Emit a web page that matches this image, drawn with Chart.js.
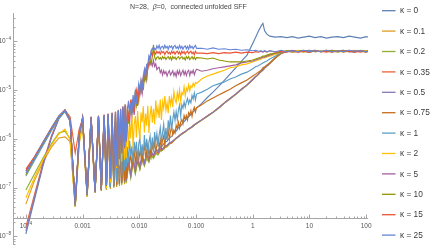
<!DOCTYPE html>
<html><head><meta charset="utf-8">
<script src="https://cdn.jsdelivr.net/npm/chart.js@4.4.1/dist/chart.umd.min.js"></script>
<style>html,body{margin:0;padding:0;background:#fff;overflow:hidden}canvas{display:block}</style>
</head><body>
<canvas id="c" width="436" height="245"></canvas>
<script>
// ---- data (log10 of time t and log10 of SFF) ----
const kappaLabels = ['0','0.1','0.2','0.35','0.5','0.75','1','2','5','10','15','25'];
const seriesColors = ['#5E81B5','#E19C24','#8FB032','#EB6235','#8778B3','#C56E1A','#5D9EC7','#FFBF00','#A5609D','#929600','#E95536','#6685D9'];

const tEarly = [-4.00,-3.85,-3.70,-3.55,-3.42,-3.31,-3.22,-3.13,-3.06,-3.00,-2.92,-2.85,-2.78,-2.72,-2.67,-2.62,-2.58,-2.55,-2.51,-2.48,-2.45,-2.42,-2.40,-2.37,-2.35,-2.33,-2.31,-2.29,-2.26,-2.25,-2.23];
const tMid = [-2.19,-2.15,-2.11,-2.07,-2.03,-1.99,-1.95,-1.91,-1.87,-1.83,-1.79,-1.75,-1.71,-1.67,-1.63,-1.59,-1.55,-1.51,-1.47,-1.43,-1.39,-1.35,-1.31,-1.27,-1.23,-1.19,-1.15,-1.11,-1.07,-1.03,-0.99];
const tMidDense = [-2.21,-2.19,-2.17,-2.15,-2.13,-2.11,-2.09,-2.07,-2.05,-2.03,
 -2.01,-1.99,-1.97,-1.95,-1.93,-1.91,-1.89,-1.87,-1.85,-1.83,
 -1.81,-1.79,-1.77,-1.75,-1.73,-1.71,-1.69,-1.67,-1.65,-1.63,
 -1.61,-1.59,-1.57,-1.55,-1.53,-1.51,-1.49,-1.47,-1.45,-1.43,
 -1.41,-1.39,-1.37,-1.35,-1.33,-1.31,-1.29,-1.27,-1.25,-1.23,
 -1.21,-1.19,-1.17,-1.15,-1.13,-1.11,-1.09,-1.07,-1.05,-1.03,
 -1.01,-0.99];
const tLate = [-0.9,-0.8,-0.7,-0.6,-0.5,-0.4,-0.3,-0.2,-0.1,0,0.05,0.1,0.15,0.18,0.21,0.25,0.3,0.4,0.5,0.6,0.7,0.8,0.9,1.0,1.1,1.2,1.3,1.4,1.5,1.6,1.7,1.8,1.9,2.0,2.04];

const sff_k0 = [
 -7.95,-7.25,-6.56,-5.98,-5.59,-5.43,-5.63,-7.38,-5.94,-5.57,-7.15,-5.55,-7.09,-5.55,-7.05,-5.55,-7.01,-5.55,-6.99,-5.57,-6.97,-5.63,-6.95,-5.71,-6.93,-5.80,-6.91,-5.90,-6.89,-6.00,-6.87,
 -6.50,-6.75,-6.45,-6.68,-6.42,-6.60,-6.38,-6.52,-6.33,-6.42,-6.28,-6.33,-6.22,-6.24,-6.15,-6.14,-6.07,-6.05,-5.98,-5.95,-5.88,-5.84,-5.77,-5.73,-5.67,-5.62,-5.57,-5.52,-5.47,-5.42,-5.37,
 -5.27,-5.15,-5.04,-4.92,-4.80,-4.67,-4.54,-4.41,-4.28,-4.04,-3.92,-3.79,-3.68,-3.63,-3.78,-3.85,-3.89,-3.91,-3.90,-3.92,-3.90,-3.93,-3.91,-3.89,-3.92,-3.90,-3.93,-3.91,-3.90,-3.92,-3.89,-3.91,-3.93,-3.90,-3.91];
const sff_k01 = [
 -7.34,-6.86,-6.48,-6.17,-5.98,-5.96,-6.06,-7.38,-6.10,-5.73,-7.19,-5.69,-7.11,-5.67,-7.07,-5.67,-7.05,-5.69,-7.03,-5.73,-7.01,-5.80,-6.99,-5.86,-6.97,-5.94,-6.95,-6.02,-6.93,-6.10,-6.91,
 -6.55,-6.78,-6.50,-6.70,-6.44,-6.62,-6.40,-6.54,-6.36,-6.46,-6.32,-6.39,-6.29,-6.31,-6.24,-6.23,-6.17,-6.15,-6.10,-6.07,-6.03,-5.99,-5.95,-5.91,-5.88,-5.85,-5.81,-5.78,-5.75,-5.71,-5.68,
 -5.61,-5.53,-5.45,-5.36,-5.26,-5.17,-5.08,-4.98,-4.89,-4.78,-4.72,-4.67,-4.61,-4.58,-4.54,-4.50,-4.45,-4.33,-4.24,-4.21,-4.19,-4.20,-4.22,-4.19,-4.21,-4.20,-4.18,-4.21,-4.19,-4.22,-4.20,-4.19,-4.21,-4.20,-4.20];
const sff_k02 = [
 -7.05,-6.72,-6.40,-6.10,-5.88,-5.84,-6.00,-7.40,-6.04,-5.69,-7.19,-5.65,-7.09,-5.63,-7.05,-5.63,-7.03,-5.65,-7.01,-5.69,-6.99,-5.76,-6.97,-5.82,-6.95,-5.90,-6.93,-5.98,-6.91,-6.06,-6.89,
 -6.45,-6.80,-6.48,-6.72,-6.46,-6.63,-6.42,-6.56,-6.40,-6.48,-6.34,-6.40,-6.30,-6.33,-6.25,-6.24,-6.18,-6.16,-6.11,-6.08,-6.04,-6.00,-5.96,-5.92,-5.89,-5.86,-5.82,-5.79,-5.76,-5.72,-5.69,
 -5.62,-5.54,-5.46,-5.37,-5.27,-5.18,-5.09,-4.99,-4.90,-4.79,-4.73,-4.68,-4.62,-4.59,-4.55,-4.51,-4.46,-4.34,-4.25,-4.20,-4.22,-4.19,-4.21,-4.20,-4.18,-4.21,-4.19,-4.20,-4.22,-4.19,-4.21,-4.20,-4.18,-4.21,-4.20];
const sff_k035 = [
 -7.80,-7.15,-6.50,-5.94,-5.57,-5.41,-5.55,-6.29,-5.80,-5.59,-7.13,-5.57,-7.07,-5.57,-7.03,-5.57,-6.99,-5.59,-6.97,-5.61,-6.95,-5.67,-6.93,-5.74,-6.91,-5.82,-6.89,-5.92,-6.87,-6.02,-6.85,
 -6.50,-6.72,-6.45,-6.64,-6.40,-6.56,-6.36,-6.49,-6.32,-6.42,-6.29,-6.35,-6.26,-6.29,-6.22,-6.21,-6.16,-6.13,-6.09,-6.09,-6.03,-5.98,-5.95,-5.91,-5.88,-5.85,-5.81,-5.78,-5.75,-5.71,-5.68,
 -5.61,-5.53,-5.45,-5.36,-5.26,-5.17,-5.08,-4.98,-4.89,-4.78,-4.72,-4.67,-4.61,-4.58,-4.54,-4.50,-4.45,-4.33,-4.24,-4.19,-4.21,-4.22,-4.20,-4.18,-4.21,-4.20,-4.22,-4.19,-4.20,-4.21,-4.18,-4.20,-4.22,-4.19,-4.21];
const sff_k05 = [
 -7.89,-7.20,-6.53,-5.96,-5.58,-5.42,-5.62,-7.36,-5.93,-5.58,-7.14,-5.56,-7.08,-5.56,-7.04,-5.56,-7.00,-5.57,-6.98,-5.59,-6.96,-5.65,-6.94,-5.72,-6.92,-5.81,-6.90,-5.91,-6.88,-6.01,-6.86,
 -6.40,-6.74,-6.36,-6.66,-6.33,-6.58,-6.30,-6.50,-6.28,-6.43,-6.25,-6.35,-6.22,-6.28,-6.18,-6.21,-6.14,-6.14,-6.08,-6.06,-6.02,-5.99,-5.95,-5.91,-5.88,-5.85,-5.81,-5.78,-5.75,-5.71,-5.68,
 -5.61,-5.53,-5.45,-5.36,-5.26,-5.17,-5.08,-4.98,-4.89,-4.78,-4.72,-4.67,-4.61,-4.58,-4.54,-4.50,-4.45,-4.33,-4.24,-4.21,-4.19,-4.21,-4.20,-4.22,-4.19,-4.20,-4.18,-4.21,-4.20,-4.19,-4.21,-4.22,-4.19,-4.20,-4.20];
const sff_k075 = [
 -6.66,-6.40,-6.11,-5.80,-5.56,-5.43,-5.63,-7.35,-5.94,-5.57,-7.14,-5.55,-7.08,-5.55,-7.04,-5.55,-7.00,-5.55,-6.98,-5.55,-6.96,-5.61,-6.94,-5.69,-6.92,-5.78,-6.90,-5.88,-6.86,-5.98,-6.82,
 -6.58,-6.28,-6.49,-6.32,-6.55,-6.37,-6.26,-6.49,-6.29,-6.52,
 -6.21,-6.37,-6.23,-6.45,-6.26,-6.14,-6.37,-6.25,-6.11,-6.37,
 -6.19,-6.35,-6.11,-6.23,-6.06,-6.26,-6.13,-6.00,-6.18,-6.02,
 -6.20,-6.02,-5.94,-6.14,-5.93,-6.00,-5.83,-6.01,-5.85,-5.75,
 -5.91,-5.82,-5.88,-5.72,-5.79,-5.66,-5.78,-5.66,-5.60,-5.69,
 -5.52,-5.60,-5.52,-5.61,-5.46,-5.51,-5.42,-5.54,-5.41,-5.35,
 -5.45,-5.36,
 -5.30,-5.22,-5.16,-5.10,-5.04,-4.98,-4.91,-4.85,-4.79,-4.71,-4.67,-4.63,-4.59,-4.54,-4.52,-4.48,-4.44,-4.34,-4.24,-4.20,-4.21,-4.19,-4.20,-4.22,-4.19,-4.21,-4.20,-4.18,-4.21,-4.20,-4.19,-4.21,-4.20,-4.22,-4.20];
const sff_k1 = [
 -6.76,-6.45,-6.14,-5.83,-5.58,-5.44,-5.64,-7.37,-5.95,-5.58,-7.16,-5.56,-7.10,-5.56,-7.06,-5.56,-7.02,-5.56,-6.98,-5.56,-6.94,-5.62,-6.88,-5.70,-6.82,-5.79,-6.74,-5.86,-6.66,-5.92,-6.58,
 -6.16,-6.48,-6.04,-6.35,-6.15,-6.48,-6.06,-6.26,-6.06,-6.46,
 -6.11,-5.98,-6.33,-6.11,-6.36,-5.92,-6.25,-6.00,-6.35,-6.07,
 -5.94,-6.23,-5.97,-6.26,-5.86,-6.07,-5.89,-6.16,-5.92,-5.77,
 -6.05,-5.88,-5.70,-6.01,-5.77,-6.02,-5.62,-5.80,-5.52,-5.82,
 -5.61,-5.45,-5.62,-5.44,-5.61,-5.41,-5.31,-5.53,-5.30,-5.37,
 -5.24,-5.35,-5.24,-5.17,-5.28,-5.20,-5.26,-5.11,-5.18,-5.06,
 -5.20,-5.08,
 -5.04,-4.98,-4.91,-4.87,-4.83,-4.77,-4.73,-4.67,-4.63,-4.56,-4.52,-4.50,-4.46,-4.44,-4.42,-4.40,-4.36,-4.30,-4.22,-4.20,-4.19,-4.21,-4.20,-4.18,-4.21,-4.19,-4.20,-4.21,-4.19,-4.18,-4.21,-4.20,-4.19,-4.21,-4.20];
const sff_k2 = [
 -7.21,-6.80,-6.43,-6.13,-5.90,-5.80,-6.02,-7.40,-6.06,-5.69,-7.19,-5.65,-7.09,-5.63,-7.05,-5.61,-7.01,-5.59,-6.90,-5.57,-6.64,-5.57,-6.60,-5.53,-6.54,-5.51,-6.47,-5.47,-6.43,-5.43,-6.39,
 -5.54,-6.20,-5.68,-5.99,-5.45,-6.19,-5.70,-5.53,-5.97,-5.43,
 -5.78,-6.01,-5.46,-5.66,-5.33,-5.87,-5.48,-5.73,-5.32,-5.88,
 -5.52,-5.32,-5.67,-5.38,-5.70,-5.21,-5.50,-5.35,-5.57,-5.19,
 -5.61,-5.24,-5.37,-5.12,-5.41,-5.26,-5.47,-5.12,-5.30,-5.15,
 -5.35,-5.03,-5.19,-5.26,-5.05,-5.18,-4.99,-5.23,-5.05,-5.09,
 -4.93,-5.12,-4.96,-5.02,-4.89,-5.01,-4.91,-4.94,-4.86,-4.92,
 -4.84,-4.86,
 -4.77,-4.71,-4.67,-4.63,-4.59,-4.54,-4.52,-4.48,-4.46,-4.42,-4.40,-4.38,-4.36,-4.34,-4.34,-4.32,-4.30,-4.26,-4.22,-4.19,-4.21,-4.18,-4.20,-4.21,-4.19,-4.20,-4.18,-4.21,-4.19,-4.20,-4.21,-4.18,-4.20,-4.19,-4.20];
const sff_k5 = [
 -6.66,-6.38,-6.08,-5.79,-5.54,-5.42,-5.62,-7.35,-5.93,-5.58,-7.14,-5.56,-7.08,-5.54,-7.04,-5.52,-6.96,-5.50,-6.82,-5.48,-6.66,-5.46,-6.56,-5.43,-6.42,-5.41,-6.30,-5.37,-6.19,-5.34,-6.06,
 -5.67,-5.50,-5.66,-5.30,-5.48,-5.18,-5.51,-5.22,-5.09,-5.32,
 -4.95,-5.09,-4.91,-5.06,-4.73,-4.80,-4.60,-4.78,-4.53,-4.44,
 -4.48,-4.41,-4.50,-4.39,-4.51,-4.46,-4.58,-4.54,-4.53,-4.64,
 -4.59,-4.69,-4.60,-4.66,-4.62,-4.71,-4.64,-4.60,-4.69,-4.65,
 -4.60,-4.70,-4.64,-4.72,-4.60,-4.67,-4.60,-4.70,-4.64,-4.59,
 -4.68,-4.61,-4.70,-4.62,-4.59,-4.70,-4.61,-4.65,-4.59,-4.68,
 -4.61,-4.57,
 -4.61,-4.59,-4.56,-4.54,-4.52,-4.50,-4.48,-4.44,-4.42,-4.40,-4.38,-4.36,-4.34,-4.32,-4.32,-4.30,-4.28,-4.24,-4.22,-4.20,-4.18,-4.21,-4.19,-4.20,-4.18,-4.21,-4.19,-4.21,-4.20,-4.18,-4.21,-4.19,-4.20,-4.21,-4.20];
const sff_k10 = [
 -6.74,-6.41,-6.09,-5.79,-5.54,-5.41,-5.61,-7.37,-5.92,-5.57,-7.16,-5.55,-7.10,-5.53,-7.06,-5.51,-6.96,-5.49,-6.81,-5.47,-6.65,-5.45,-6.55,-5.41,-6.40,-5.39,-6.28,-5.35,-6.16,-5.31,-6.03,
 -5.36,-5.69,-5.35,-5.45,-5.19,-5.47,-5.21,-5.04,-5.31,-5.12,
 -5.23,-4.93,-5.03,-4.78,-5.00,-4.75,-4.61,-4.75,-4.47,-4.50,
 -4.38,-4.46,-4.30,-4.07,-4.32,-4.38,-4.33,-4.31,-4.36,-4.33,
 -4.37,-4.31,-4.35,-4.32,-4.37,-4.33,-4.31,-4.36,-4.32,-4.38,
 -4.31,-4.35,-4.32,-4.37,-4.33,-4.31,-4.36,-4.33,-4.31,-4.36,
 -4.33,-4.38,-4.31,-4.35,-4.31,-4.37,-4.34,-4.31,-4.36,-4.32,
 -4.37,-4.33,
 -4.34,-4.36,-4.34,-4.38,-4.40,-4.42,-4.42,-4.42,-4.40,-4.38,-4.36,-4.34,-4.32,-4.30,-4.30,-4.28,-4.26,-4.24,-4.21,-4.19,-4.21,-4.20,-4.18,-4.21,-4.19,-4.21,-4.20,-4.18,-4.21,-4.19,-4.20,-4.21,-4.19,-4.20,-4.20];
const sff_k15 = [
 -6.62,-6.37,-6.07,-5.77,-5.53,-5.40,-5.60,-7.34,-5.91,-5.56,-7.14,-5.54,-7.08,-5.52,-7.04,-5.50,-6.94,-5.48,-6.79,-5.46,-6.63,-5.44,-6.53,-5.40,-6.38,-5.38,-6.26,-5.33,-6.14,-5.29,-6.01,
 -5.32,-5.63,-5.41,-5.19,-5.45,-5.19,-5.45,-5.16,-5.01,-5.32,
 -4.99,-5.04,-4.82,-5.00,-4.77,-4.60,-4.76,-4.58,-4.57,-4.36,
 -4.37,-4.22,-4.29,-4.22,-4.21,-4.26,-4.20,-4.24,-4.21,-4.26,
 -4.20,-4.23,-4.21,-4.27,-4.22,-4.20,-4.25,-4.22,-4.26,-4.20,
 -4.24,-4.21,-4.26,-4.22,-4.20,-4.25,-4.21,-4.27,-4.20,-4.24,
 -4.21,-4.26,-4.22,-4.20,-4.25,-4.22,-4.20,-4.25,-4.22,-4.27,
 -4.20,-4.24,
 -4.24,-4.25,-4.23,-4.25,-4.23,-4.24,-4.22,-4.24,-4.22,-4.23,-4.21,-4.22,-4.20,-4.22,-4.20,-4.22,-4.19,-4.22,-4.20,-4.22,-4.19,-4.21,-4.20,-4.22,-4.19,-4.21,-4.20,-4.22,-4.19,-4.21,-4.20,-4.22,-4.19,-4.21,-4.20];
const sff_k25 = [
 -6.70,-6.40,-6.08,-5.78,-5.53,-5.41,-5.61,-7.36,-5.92,-5.57,-7.15,-5.55,-7.09,-5.53,-7.05,-5.51,-6.95,-5.49,-6.80,-5.47,-6.64,-5.45,-6.54,-5.41,-6.39,-5.39,-6.27,-5.34,-6.15,-5.30,-6.02,
 -5.41,-5.22,-5.52,-5.26,-5.50,-5.10,-5.28,-4.99,-5.28,-5.05,
 -4.87,-5.04,-4.81,-4.98,-4.74,-4.58,-4.77,-4.47,-4.47,-4.29,
 -4.34,-4.19,-4.14,-4.18,-4.14,-4.17,-4.09,-4.14,-4.08,-4.16,
 -4.11,-4.10,-4.15,-4.08,-4.13,-4.10,-4.16,-4.09,-4.12,-4.09,
 -4.16,-4.10,-4.08,-4.14,-4.11,-4.15,-4.08,-4.14,-4.10,-4.16,
 -4.11,-4.09,-4.15,-4.10,-4.16,-4.08,-4.13,-4.10,-4.15,-4.11,
 -4.08,-4.14,
 -4.14,-4.16,-4.13,-4.16,-4.15,-4.17,-4.16,-4.18,-4.17,-4.19,-4.18,-4.20,-4.19,-4.21,-4.19,-4.21,-4.19,-4.21,-4.18,-4.21,-4.19,-4.21,-4.18,-4.21,-4.19,-4.21,-4.18,-4.21,-4.19,-4.21,-4.18,-4.20,-4.19,-4.21,-4.19];

const allSff = [sff_k0,sff_k01,sff_k02,sff_k035,sff_k05,sff_k075,sff_k1,sff_k2,sff_k5,sff_k10,sff_k15,sff_k25];

// axes / ticks
const xTicks = [1e-4, 1e-3, 1e-2, 1e-1, 1, 10, 100];
const xTickLabels = ['10^-4','0.001','0.010','0.100','1','10','100'];
const yTicks = [1e-8, 1e-7, 1e-6, 1e-5, 1e-4];
const yTickLabels = ['10^-8','10^-7','10^-6','10^-5','10^-4'];
const titleText = ['N=28,  ', 'β', '=0,  connected unfolded SFF'];

// plot range (log10) and axis crossing
const xRange = [-4.2275, 2.0335];
const yRange = [-8.179, -3.415];
const xAxisAtLogY = -7.63;
const yAxisAtLogX = -4.222;

// ---- build ----
const gridSparse = tEarly.concat(tMid, tLate);
const gridDense = tEarly.concat(tMidDense, tLate);
const N = kappaLabels.length;
const datasets = allSff.map((arr, i) => {
  const grid = arr.length === gridDense.length ? gridDense : gridSparse;
  const pts = [];
  const n = Math.min(arr.length, grid.length);
  for (let j = 0; j < n; j++) pts.push({x: Math.pow(10, grid[j]), y: Math.pow(10, arr[j])});
  return {
    label: 'κ = ' + kappaLabels[i],
    data: pts,
    borderColor: seriesColors[i],
    backgroundColor: seriesColors[i],
    borderWidth: 1.15,
    pointRadius: 0,
    fill: false,
    tension: 0,
    order: N - i
  };
});

const FONT = '"Liberation Sans", Arial, sans-serif';
function drawPow(ctx, label, x, y, align, size) {
  const parts = label.split('^');
  ctx.font = size + 'px ' + FONT;
  const w1 = ctx.measureText(parts[0]).width;
  let w2 = 0, sup = '';
  if (parts.length > 1) {
    sup = parts[1].replace('-', '\u2212');
    ctx.font = (size * 0.72) + 'px ' + FONT;
    w2 = ctx.measureText(sup).width;
  }
  const total = w1 + w2;
  let x0 = align === 'right' ? x - total : (align === 'center' ? x - total / 2 : x);
  ctx.textBaseline = 'middle';
  ctx.textAlign = 'left';
  ctx.font = size + 'px ' + FONT;
  ctx.fillText(parts[0], x0, y);
  if (sup) {
    ctx.font = (size * 0.72) + 'px ' + FONT;
    ctx.fillText(sup, x0 + w1, y - size * 0.42);
  }
}

const mmaAxes = {
  id: 'mmaAxes',
  beforeDatasetsDraw(chart) {
    const {ctx} = chart;
    const xs = chart.scales.x, ys = chart.scales.y;
    const axY = Math.round(ys.getPixelForValue(Math.pow(10, xAxisAtLogY))) + 0.5;
    const axX = Math.round(xs.getPixelForValue(Math.pow(10, yAxisAtLogX))) + 0.5;
    const left = xs.left, right = xs.right, top = ys.top, bottom = ys.bottom;
    ctx.save();
    ctx.strokeStyle = '#a6a6a6';
    ctx.lineWidth = 1;
    ctx.beginPath();
    ctx.moveTo(left, axY); ctx.lineTo(right, axY);
    ctx.moveTo(axX, top); ctx.lineTo(axX, bottom);
    ctx.stroke();
    ctx.beginPath();
    for (let e = -5; e <= 2; e++) {
      for (let m = 1; m <= 9; m++) {
        const v = m * Math.pow(10, e);
        const px = xs.getPixelForValue(v);
        if (px < left + 1 || px > right) continue;
        const len = m === 1 ? 4 : 2;
        const p = Math.round(px) + 0.5;
        ctx.moveTo(p, axY); ctx.lineTo(p, axY - len);
      }
    }
    for (let e = -9; e <= -3; e++) {
      for (let m = 1; m <= 9; m++) {
        const v = m * Math.pow(10, e);
        const py = ys.getPixelForValue(v);
        if (py < top || py > bottom) continue;
        const len = m === 1 ? 4 : 2;
        const p = Math.round(py) + 0.5;
        ctx.moveTo(axX, p); ctx.lineTo(axX + len, p);
      }
    }
    ctx.stroke();
    ctx.fillStyle = '#555555';
    xTicks.forEach((v, i) => {
      drawPow(ctx, xTickLabels[i], xs.getPixelForValue(v), axY + 8, 'center', 6.5);
    });
    yTicks.forEach((v, i) => {
      drawPow(ctx, yTickLabels[i], axX - 2.5, ys.getPixelForValue(v), 'right', 6.5);
    });
    ctx.restore();
  },
  afterDraw(chart) {
    const {ctx} = chart;
    ctx.save();
    ctx.fillStyle = '#444444';
    ctx.textBaseline = 'middle';
    ctx.textAlign = 'left';
    let tx = 130;
    titleText.forEach((s, i) => {
      ctx.font = (i === 1 ? 'italic ' : '') + '7px ' + FONT;
      ctx.fillText(s, tx, 7.5);
      tx += ctx.measureText(s).width;
    });
    chart.data.datasets.forEach((ds, i) => {
      const y = 10.7 + i * 20.4;
      ctx.strokeStyle = ds.borderColor;
      ctx.lineWidth = 1.3;
      ctx.beginPath();
      ctx.moveTo(382, y); ctx.lineTo(395.5, y);
      ctx.stroke();
      ctx.fillStyle = '#3a3a3a';
      ctx.font = '8.3px ' + FONT;
      ctx.fillText(ds.label, 400, y + 0.5);
    });
    ctx.restore();
  }
};

new Chart(document.getElementById('c').getContext('2d'), {
  type: 'line',
  data: { datasets },
  options: {
    responsive: false,
    animation: false,
    events: [],
    devicePixelRatio: 1,
    layout: { padding: { left: 13, right: 68, top: 13, bottom: 0 } },
    plugins: { legend: { display: false }, tooltip: { enabled: false }, title: { display: false } },
    scales: {
      x: { type: 'logarithmic', min: Math.pow(10, xRange[0]), max: Math.pow(10, xRange[1]), display: false, bounds: 'data' },
      y: { type: 'logarithmic', min: Math.pow(10, yRange[0]), max: Math.pow(10, yRange[1]), display: false, bounds: 'data' }
    }
  },
  plugins: [mmaAxes]
});
</script>
</body></html>
